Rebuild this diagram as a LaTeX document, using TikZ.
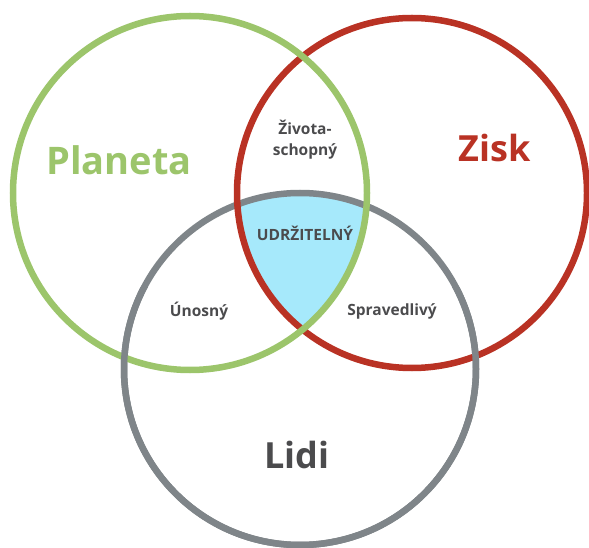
\documentclass[tikz,border=0pt]{standalone}
\usepackage{fontspec}
\setmainfont{Open Sans}
\definecolor{cgreen}{HTML}{9CC56B}
\definecolor{cred}{HTML}{B93224}
\definecolor{cgray}{HTML}{7F8589}
\definecolor{cblue}{HTML}{A6E9FB}
\definecolor{ctext}{HTML}{4B4B4D}
\begin{document}
\begin{tikzpicture}[x=1pt,y=1pt,
  ring/.style={line width=6.5pt},
  big/.style={font=\bfseries\fontsize{38}{44}\selectfont},
  mid/.style={font=\bfseries\fontsize{36}{44}\selectfont},
  small/.style={font=\bfseries\fontsize{15.5}{21}\selectfont, text=ctext, align=center}]
\useasboundingbox (0,0) rectangle (589,547);
\coordinate (G) at (190,354);
\coordinate (R) at (412,354);
\coordinate (L) at (300,178);
\begin{scope}
  \clip (G) circle (177);
  \clip (R) circle (175);
  \fill[cblue] (L) circle (176);
\end{scope}
\draw[ring, cgray] (L) circle (176);
\draw[ring, cred] (R) circle (175);
\draw[ring, cgreen] (G) circle (177);
\begin{scope}
  \clip (0,0) rectangle (589,260);
  \draw[ring, cgray] (L) circle (176);
\end{scope}
\node[big, text=cgreen] (planeta) at (119,387) {Planeta};
\node[mid, text=cred] (zisk) at (495,399) {Zisk};
\node[mid, text=ctext] (lidi) at (297,92) {Lidi};
\node[small] (zivot) at (305,407) {Života-\\schopný};
\node[small] (udrz) at (305,314) {UDRŽITELNÝ};
\node[small] (unos) at (199,236) {Únosný};
\node[small] (sprav) at (392,236) {Spravedlivý};
\end{tikzpicture}
\end{document}
